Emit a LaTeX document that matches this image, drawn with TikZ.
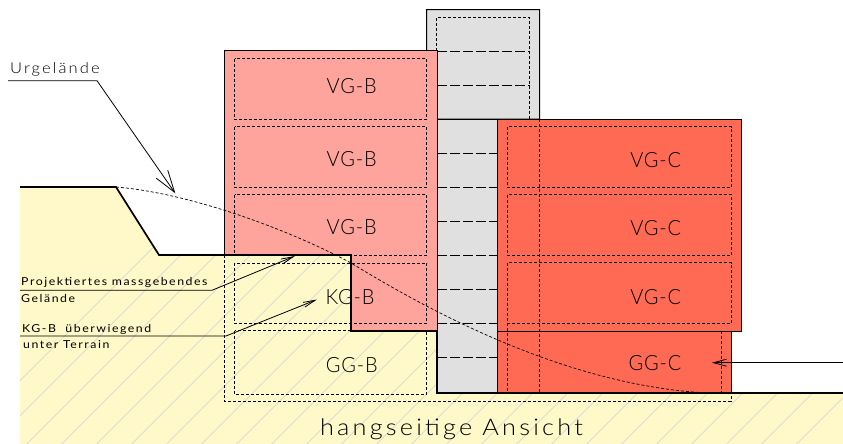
\documentclass[tikz,border=0pt]{standalone}
\usepackage{fontspec}
\setmainfont[LetterSpace=4,FakeStretch=0.95]{Lato Light}
\newfontfamily\notefont[LetterSpace=14,FakeStretch=1.12]{Lato}
\newfontfamily\titlefont[LetterSpace=14,FakeStretch=1.1]{Lato Light}
\usetikzlibrary{arrows.meta}
\definecolor{soil}{HTML}{FFF8C8}
\definecolor{hatchline}{HTML}{D8D8D0}
\definecolor{houseB}{HTML}{FFA49C}
\definecolor{houseC}{HTML}{FF6A55}
\definecolor{stair}{HTML}{E0E0E0}
\tikzset{
	outline/.style={draw=black,line width=1pt},
	terrain/.style={line width=1.7pt,line join=miter},
	room/.style={line width=0.7pt,dash pattern=on 3pt off 2pt},
	floorline/.style={line width=0.8pt,dash pattern=on 10pt off 3pt},
	leader/.style={line width=0.8pt},
	room label/.style={font=\fontsize{21}{21}\selectfont,inner sep=0pt},
	small label/.style={font=\notefont\fontsize{11}{12}\selectfont,inner sep=0pt,anchor=west},
}
\begin{document}
\begin{tikzpicture}[x=1pt,y=-1pt]
	\useasboundingbox (0,0) rectangle (843,444);
	% ground
	\fill[soil] (20,187) -- (116,187) -- (159,255) -- (351,255) -- (351,331) -- (437,331) -- (437,393) -- (843,393) -- (843,444) -- (20,444) -- cycle;
	\begin{scope}
		\clip (20,187) -- (116,187) -- (159,255) -- (351,255) -- (351,331) -- (437,331) -- (437,393) -- (843,393) -- (843,444) -- (20,444) -- cycle;
		\foreach \x in {-43.3,-8.3,...,830}
			\draw[hatchline,line width=0.7pt] (\x,444) -- ++(260,-260);
	\end{scope}
	% stair core
	\filldraw[fill=stair,outline] (426.7,51) -- (426.7,9.7) -- (539.7,9.7) -- (539.7,119) -- (437,119) -- cycle;
	\filldraw[fill=stair,outline] (437,119) rectangle (497.5,393);
	\draw[room] (436.7,51) -- (436.7,17.3) -- (529.7,17.3) -- (529.7,119);
	\foreach \y in {51,85.3}
		\draw[floorline] (437,\y) -- (529.7,\y);
	\foreach \y in {153.3,187.3,221,255,289.7,323.3,357.7}
		\draw[floorline] (437,\y) -- (497.5,\y);
	% house B
	\filldraw[fill=houseB,outline] (224.7,255) -- (224.7,51) -- (437,51) -- (437,331) -- (351,331) -- (351,255) -- cycle;
	\foreach \a/\b in {58.7/119.3,126.7/187.3,194.7/255.3,263/323.3,330.7/394}
		\draw[room] (234.5,\a) rectangle (426.7,\b);
	% house C
	\filldraw[fill=houseC,outline] (497.5,331) rectangle (731,393);
	\filldraw[fill=houseC,outline] (497.5,119) rectangle (741,331);
	\foreach \a/\b in {126.7/187.3,194.7/255,262.7/323.3}
		\draw[room] (507.5,\a) rectangle (731.7,\b);
	\draw[room] (507.5,323.3) -- (507.5,393);
	\draw[room] (721,331) -- (721,393);
	\draw[room] (539.7,119) -- (539.7,393);
	% basement outline
	\draw[room] (224.7,255) -- (224.7,401.3) -- (731,401.3) -- (731,393);
	% terrain
	\draw[terrain] (20,187) -- (116,187) -- (159,255) -- (351,255) -- (351,331) -- (437,331) -- (437,393) -- (843,393);
	\draw[line width=0.7pt,dash pattern=on 3pt off 2pt] (116,187) .. controls (190,193) and (290,230) .. (351,263) .. controls (420,305) and (560,385) .. (707,393);
	% labels
	\foreach \y/\n in {86/vgba,159/vgbb,226.7/vgbc}
		\node[room label] (\n) at (351.7,\y) {VG-B};
	\node[room label] (kgb) at (350,296.7) {KG-B};
	\node[room label] (ggb) at (351.7,365) {GG-B};
	\foreach \y/\n in {160/vgca,228/vgcb,296.7/vgcc}
		\node[room label] (\n) at (655.7,\y) {VG-C};
	\node[room label] (ggc) at (655,362.7) {GG-C};
	\node[font=\titlefont\fontsize{23}{23}\selectfont,inner sep=0pt] (title) at (451.5,429) {hangseitige Ansicht};
	\node[small label,font=\titlefont\fontsize{15}{15}\selectfont] (urg) at (10,69) {Urgelände};
	\node[small label] (proj) at (21,282.7) {Projektiertes massgebendes};
	\node[small label] (gel) at (21,298) {Gelände};
	\node[small label] (kgtext) at (22,329) {KG-B\ \ überwiegend};
	\node[small label] (unter) at (23,345) {unter Terrain};
	% leaders
	\coordinate (urgstart) at (8,80.7);
	\coordinate (urgbend) at (97,80.7);
	\coordinate (urgtip) at (175.3,193.3);
	\coordinate (projstart) at (20,290.3);
	\coordinate (projbend) at (212,290.3);
	\coordinate (projtip) at (295,256);
	\coordinate (kgstart) at (20,336);
	\coordinate (kgbend) at (226,336);
	\coordinate (kgtip) at (317,299.5);
	\coordinate (ggstart) at (843,362.7);
	\coordinate (ggtip) at (712,362.7);
	\draw[leader,-{Straight Barb[length=22pt,width=14pt]}] (urgstart) -- (urgbend) -- (urgtip);
	\draw[leader,-{Straight Barb[length=12pt,width=5pt]}] (projstart) -- (projbend) -- (projtip);
	\draw[leader,-{Straight Barb[length=12pt,width=5pt]}] (kgstart) -- (kgbend) -- (kgtip);
	\draw[leader,-{Straight Barb[length=13pt,width=7pt]}] (ggstart) -- (ggtip);
\end{tikzpicture}
\end{document}
